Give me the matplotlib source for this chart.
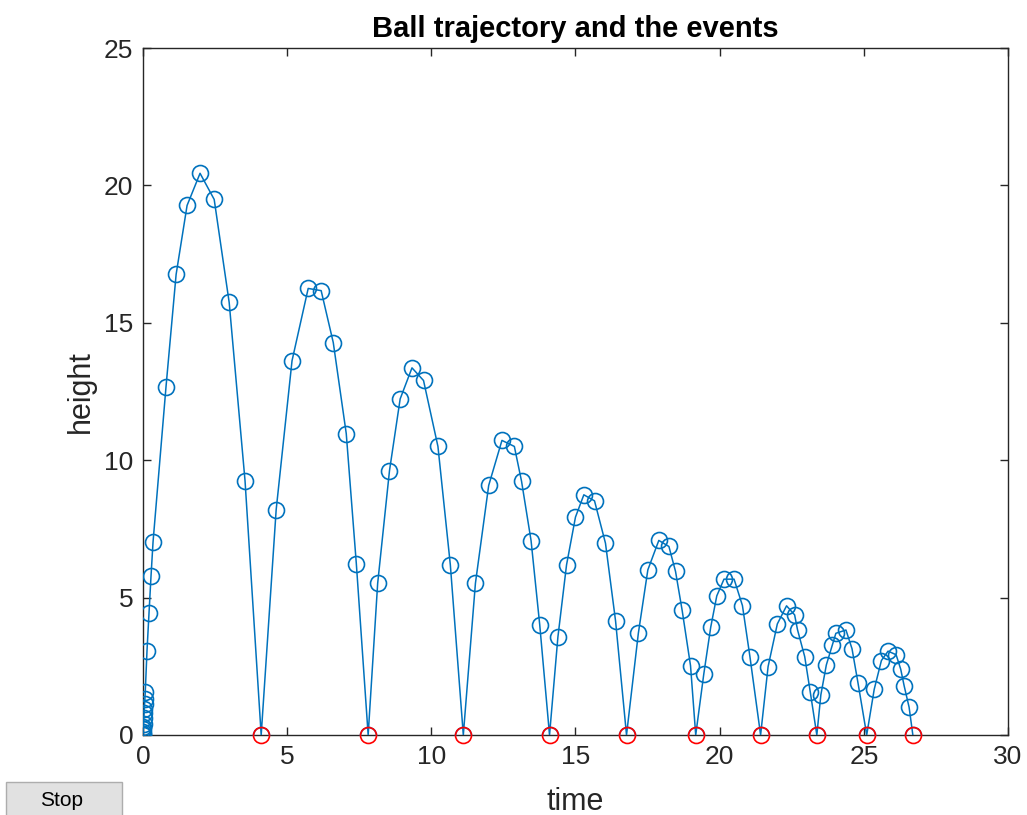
import matplotlib
matplotlib.use("Agg")
import matplotlib.pyplot as plt
from matplotlib.patches import Rectangle

plt.rcParams['font.family'] = ['Liberation Sans', 'DejaVu Sans']

# trayectoria de la pelota (puntos del solver), rebote a rebote
t_b1 = [0.0, 0.003, 0.006, 0.01, 0.015, 0.02, 0.03, 0.04, 0.048, 0.057, 0.066, 0.08,
        0.14, 0.21, 0.28, 0.35, 0.80, 1.15, 1.53, 1.98, 2.47, 2.99, 3.54, 4.10]
h_b1 = [0.0, 0.05, 0.12, 0.2, 0.3, 0.4, 0.62, 0.8, 0.95, 1.13, 1.3, 1.57,
        3.06, 4.44, 5.79, 7.03, 12.68, 16.76, 19.27, 20.44, 19.49, 15.74, 9.25, 0.0]
t_b2 = [4.62, 5.17, 5.73, 6.18, 6.60, 7.05, 7.40, 7.81]
h_b2 = [8.20, 13.62, 16.25, 16.17, 14.28, 10.97, 6.23, 0.0]
t_b3 = [8.14, 8.55, 8.92, 9.33, 9.73, 10.23, 10.66, 11.11]
h_b3 = [5.52, 9.62, 12.23, 13.36, 12.90, 10.50, 6.19, 0.0]
t_b4 = [11.53, 11.99, 12.45, 12.88, 13.13, 13.46, 13.76, 14.10]
h_b4 = [5.52, 9.08, 10.72, 10.50, 9.23, 7.07, 4.01, 0.0]
t_b5 = [14.39, 14.69, 15.00, 15.29, 15.66, 16.04, 16.39, 16.77]
h_b5 = [3.56, 6.19, 7.93, 8.74, 8.52, 6.98, 4.15, 0.0]
t_b6 = [17.18, 17.51, 17.89, 18.24, 18.47, 18.70, 18.99, 19.17]
h_b6 = [3.70, 6.01, 7.08, 6.86, 5.95, 4.53, 2.52, 0.0]
t_b7 = [19.45, 19.69, 19.90, 20.15, 20.50, 20.79, 21.05, 21.42]
h_b7 = [2.22, 3.92, 5.06, 5.67, 5.67, 4.71, 2.85, 0.0]
t_b8 = [21.68, 22.00, 22.32, 22.60, 22.70, 22.95, 23.14, 23.37]
h_b8 = [2.49, 4.04, 4.70, 4.37, 3.83, 2.85, 1.58, 0.0]
t_b9 = [23.51, 23.70, 23.91, 24.03, 24.38, 24.59, 24.80, 25.10]
h_b9 = [1.46, 2.55, 3.28, 3.70, 3.82, 3.14, 1.88, 0.0]
t_b10 = [25.36, 25.61, 25.84, 26.12, 26.28, 26.40, 26.57, 26.70]
h_b10 = [1.66, 2.71, 3.05, 2.92, 2.39, 1.78, 1.01, 0.0]

# eventos (la pelota toca el suelo)
t_events = [4.10, 7.81, 11.11, 14.10, 16.77, 19.17, 21.42, 23.37, 25.10, 26.70]
h_events = [0.0] * len(t_events)

x_ticks = [0, 5, 10, 15, 20, 25, 30]
y_ticks = [0, 5, 10, 15, 20, 25]

t_all = t_b1 + t_b2 + t_b3 + t_b4 + t_b5 + t_b6 + t_b7 + t_b8 + t_b9 + t_b10
h_all = h_b1 + h_b2 + h_b3 + h_b4 + h_b5 + h_b6 + h_b7 + h_b8 + h_b9 + h_b10

BLUE = '#0072BD'
GRAY = '#262626'

fig = plt.figure(figsize=(10.27, 8.15), dpi=100, facecolor='white')
ax = fig.add_axes([0.1392, 0.0982, 0.8423, 0.8429])

ax.plot(t_all, h_all, color=BLUE, linewidth=1.1, marker='o', markersize=11.5,
        markerfacecolor='none', markeredgecolor=BLUE, markeredgewidth=1.2, zorder=3)
ax.plot(t_events, h_events, linestyle='none', marker='o', markersize=11.5,
        markerfacecolor='none', markeredgecolor='#FF0000', markeredgewidth=1.2,
        zorder=4, clip_on=False)

ax.set_xlim(0, 30)
ax.set_ylim(0, 25)
ax.set_xticks(x_ticks)
ax.set_yticks(y_ticks)
ax.tick_params(direction='in', length=6, width=1.0, colors=GRAY,
               labelsize=19, top=True, right=True, pad=7)
for s in ax.spines.values():
    s.set_color(GRAY)
    s.set_linewidth(1.0)

ax.set_title('Ball trajectory and the events', fontsize=21, fontweight='bold',
             color='black', pad=8)
ax.set_xlabel('time', fontsize=22, color=GRAY, labelpad=13)
ax.set_ylabel('height', fontsize=22, color=GRAY, labelpad=6)

# boton "Stop" de odeplot
fig.patches.append(Rectangle((6 / 1027, -0.01), 116 / 1027, 41 / 815,
                             transform=fig.transFigure, facecolor='#E1E1E1',
                             edgecolor='#ADADAD', linewidth=1.0))
fig.text(62 / 1027, 14 / 815, 'Stop', ha='center', va='center',
         fontsize=15, color='black')

fig.savefig('out.png', dpi=100, facecolor='white')
